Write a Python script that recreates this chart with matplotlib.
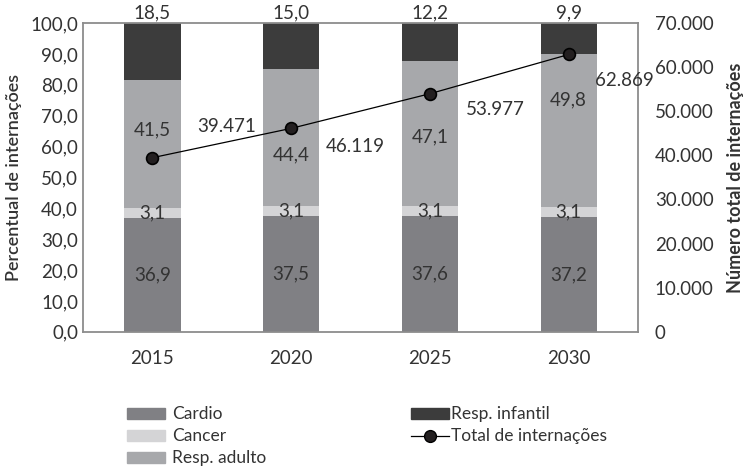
import matplotlib.pyplot as plt
from matplotlib.patches import Patch
from matplotlib.lines import Line2D
from matplotlib.ticker import FuncFormatter

# dados
anos = ['2015', '2020', '2025', '2030']
cardio = [36.9, 37.5, 37.6, 37.2]
cancer = [3.1, 3.1, 3.1, 3.1]
resp_adulto = [41.5, 44.4, 47.1, 49.8]
resp_infantil = [18.5, 15.0, 12.2, 9.9]
total = [39471, 46119, 53977, 62869]

# cores
cor_cardio = '#808084'
cor_cancer = '#d4d4d6'
cor_adulto = '#a7a8ab'
cor_infantil = '#3c3c3c'
cor_texto = '#333333'

plt.rcParams['font.family'] = ['Lato', 'DejaVu Sans']
fs = 13.5

fig = plt.figure(figsize=(7.46, 4.70), dpi=100)
ax = fig.add_axes([0.1113, 0.294, 0.744, 0.657])

x = range(len(anos))
w = 0.405
base2 = [a + b for a, b in zip(cardio, cancer)]
base3 = [a + b for a, b in zip(base2, resp_adulto)]

ax.bar(x, cardio, w, color=cor_cardio, zorder=2)
ax.bar(x, cancer, w, bottom=cardio, color=cor_cancer, zorder=2)
ax.bar(x, resp_adulto, w, bottom=base2, color=cor_adulto, zorder=2)
ax.bar(x, resp_infantil, w, bottom=base3, color=cor_infantil, zorder=2)

def fmt_pct(v):
    return f'{v:.1f}'.replace('.', ',')

# posicao vertical dos rotulos de resp. adulto (ajustados para nao bater na linha)
adulto_label_y = [65.4, 57.3, 63.1, 75.1]

for i in x:
    ax.text(i, cardio[i] / 2, fmt_pct(cardio[i]), ha='center', va='center',
            fontsize=fs, color=cor_texto, zorder=3)
    ax.text(i, cardio[i] + cancer[i] / 2, fmt_pct(cancer[i]), ha='center',
            va='center', fontsize=fs, color=cor_texto, zorder=3)
    ax.text(i, adulto_label_y[i], fmt_pct(resp_adulto[i]), ha='center',
            va='center', fontsize=fs, color=cor_texto, zorder=3)
    ax.text(i, 100.6, fmt_pct(resp_infantil[i]), ha='center', va='bottom',
            fontsize=fs, color=cor_texto, clip_on=False)

ax.set_xlim(-0.5, 3.5)
ax.set_ylim(0, 100)
ax.set_yticks(range(0, 101, 10))
ax.yaxis.set_major_formatter(FuncFormatter(lambda v, p: fmt_pct(v)))
ax.set_xticks(list(x))
ax.set_xticklabels(anos)
ax.tick_params(axis='y', length=0, pad=3.6, labelsize=fs, labelcolor=cor_texto)
ax.tick_params(axis='x', length=0, pad=13, labelsize=fs, labelcolor=cor_texto)
ax.set_ylabel('Percentual de internações', fontsize=13, fontweight='semibold',
              color=cor_texto, labelpad=6)
for s in ax.spines.values():
    s.set_color('#8c8c8c')
    s.set_linewidth(1.3)

# eixo secundario
ax2 = ax.twinx()
ax2.plot(list(x), total, color='black', lw=0.9, marker='o', ms=8.5,
         mfc='#231f20', mec='black', mew=1.2)
ax2.set_ylim(0, 70000)
ax2.set_yticks(range(0, 70001, 10000))
ax2.yaxis.set_major_formatter(FuncFormatter(lambda v, p: f'{int(v):,}'.replace(',', '.')))
ax2.tick_params(axis='y', length=0, pad=12, labelsize=fs, labelcolor=cor_texto)
ax2.set_ylabel('Número total de internações', fontsize=13, fontweight='bold',
               color=cor_texto, labelpad=10)
for s in ax2.spines.values():
    s.set_visible(False)

offsets = [(74, 31), (64, -18), (65, -16), (56, -26)]
for i in x:
    ax2.annotate(f'{total[i]:,}'.replace(',', '.'), (i, total[i]),
                 xytext=offsets[i], textcoords='offset pixels',
                 ha='center', va='center', fontsize=fs, color=cor_texto)

# legenda
h1 = [Patch(color=cor_cardio), Patch(color=cor_cancer), Patch(color=cor_adulto)]
leg1 = fig.legend(h1, ['Cardio', 'Cancer', 'Resp. adulto'], loc='upper left',
                  bbox_to_anchor=(0.158, 0.154), frameon=False, fontsize=12.5,
                  handlelength=2.2, handleheight=0.6, handletextpad=0.4,
                  labelspacing=0.35, borderpad=0, labelcolor=cor_texto)
h2 = [Patch(color=cor_infantil),
      Line2D([], [], color='black', lw=0.9, marker='o', ms=8.5,
             mfc='#231f20', mec='black')]
leg2 = fig.legend(h2, ['Resp. infantil', 'Total de internações'], loc='upper left',
                  bbox_to_anchor=(0.539, 0.154), frameon=False, fontsize=12.5,
                  handlelength=2.2, handleheight=0.6, handletextpad=0.1,
                  labelspacing=0.35, borderpad=0, labelcolor=cor_texto)

fig.savefig('out.png', dpi=100)
